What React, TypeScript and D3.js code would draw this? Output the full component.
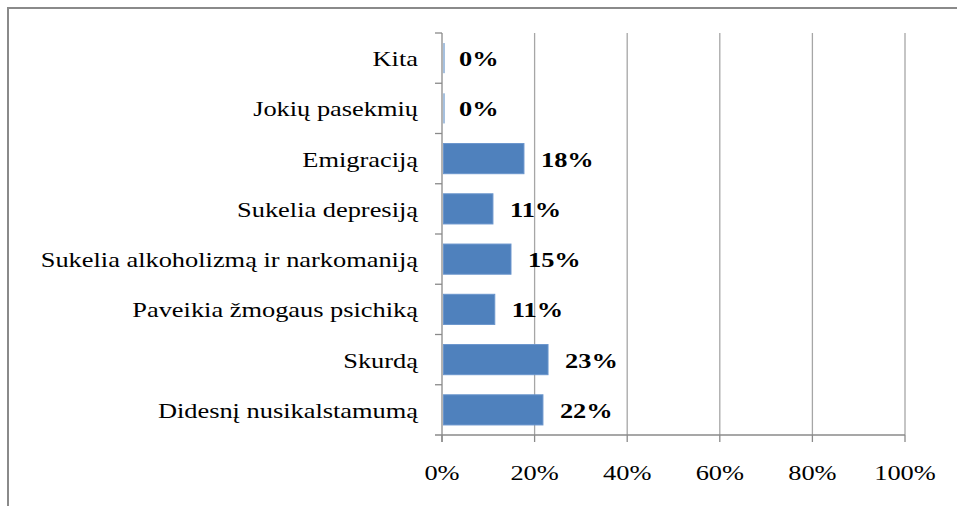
import React from "react";
import { scaleLinear, scaleBand } from "d3";

// categories top to bottom
const categories = [
  "Kita",
  "Jokių pasekmių",
  "Emigraciją",
  "Sukelia depresiją",
  "Sukelia alkoholizmą ir narkomaniją",
  "Paveikia žmogaus psichiką",
  "Skurdą",
  "Didesnį nusikalstamumą",
];
const values = [0, 0, 17.7, 11.0, 14.9, 11.4, 22.9, 21.8];
const ticks = [0, 20, 40, 60, 80, 100];

const W = 957;
const H = 506;
const margin = { left: 442, right: 52, top: 33, bottom: 71 };
const FONT = "'Liberation Serif', 'Times New Roman', serif";
const SX = 1.2; // the original text looks stretched sideways

export default function App() {
  const x = scaleLinear()
    .domain([0, 100])
    .range([margin.left, W - margin.right]);
  const y = scaleBand()
    .domain(categories)
    .range([margin.top, H - margin.bottom])
    .paddingInner(0.4)
    .paddingOuter(0.2);
  const step = y.step();
  const bottom = H - margin.bottom;

  return (
    <svg
      width={W}
      height={H}
      style={{ position: "absolute", left: 0, top: 0, background: "#fff" }}
    >
      <rect x={8} y={8} width={W} height={H} fill="none" stroke="#8a8a8a" strokeWidth={2} />

      {/* gridlines */}
      {ticks.slice(1).map((t) => (
        <line key={t} x1={x(t)} x2={x(t)} y1={margin.top} y2={bottom} stroke="#a6a6a6" strokeWidth={1.3} />
      ))}

      {/* bars; zero values still show as a thin line like in the original */}
      {categories.map((c, i) => (
        <rect
          key={c}
          x={x(0) + 1.5}
          y={y(c)}
          width={Math.max(1, x(values[i]) - x(0) - 1.5)}
          height={y.bandwidth()}
          fill="#4f81bd"
          stroke={values[i] > 0 ? "#6a95cc" : "none"}
          strokeWidth={1}
        />
      ))}

      {/* axes */}
      <line x1={x(0)} x2={x(0)} y1={margin.top} y2={bottom + 7} stroke="#8a8a8a" strokeWidth={1.3} />
      <line x1={x(0) - 7} x2={x(100)} y1={bottom} y2={bottom} stroke="#8a8a8a" strokeWidth={1.3} />
      {categories.map((c, i) => (
        <line key={c} x1={x(0) - 7} x2={x(0)} y1={margin.top + i * step} y2={margin.top + i * step} stroke="#8a8a8a" strokeWidth={1.3} />
      ))}
      {ticks.map((t) => (
        <line key={t} x1={x(t)} x2={x(t)} y1={bottom} y2={bottom + 7} stroke="#8a8a8a" strokeWidth={1.3} />
      ))}

      {/* category labels */}
      {categories.map((c) => (
        <text
          key={c}
          transform={`translate(${x(0) - 24},${y(c)! + y.bandwidth() / 2 + 8}) scale(${SX},1)`}
          textAnchor="end"
          fontFamily={FONT}
          fontSize={22}
          fill="#000"
        >
          {c}
        </text>
      ))}

      {/* value labels */}
      {categories.map((c, i) => (
        <text
          key={c}
          transform={`translate(${x(values[i]) + 17},${y(c)! + y.bandwidth() / 2 + 8}) scale(${SX},1)`}
          fontFamily={FONT}
          fontSize={22}
          fontWeight="bold"
          fill="#000"
        >
          {Math.round(values[i])}%
        </text>
      ))}

      {/* tick labels */}
      {ticks.map((t) => (
        <text
          key={t}
          transform={`translate(${x(t)},${bottom + 45}) scale(${SX},1)`}
          textAnchor="middle"
          fontFamily={FONT}
          fontSize={22}
          fill="#000"
        >
          {t}%
        </text>
      ))}
    </svg>
  );
}
